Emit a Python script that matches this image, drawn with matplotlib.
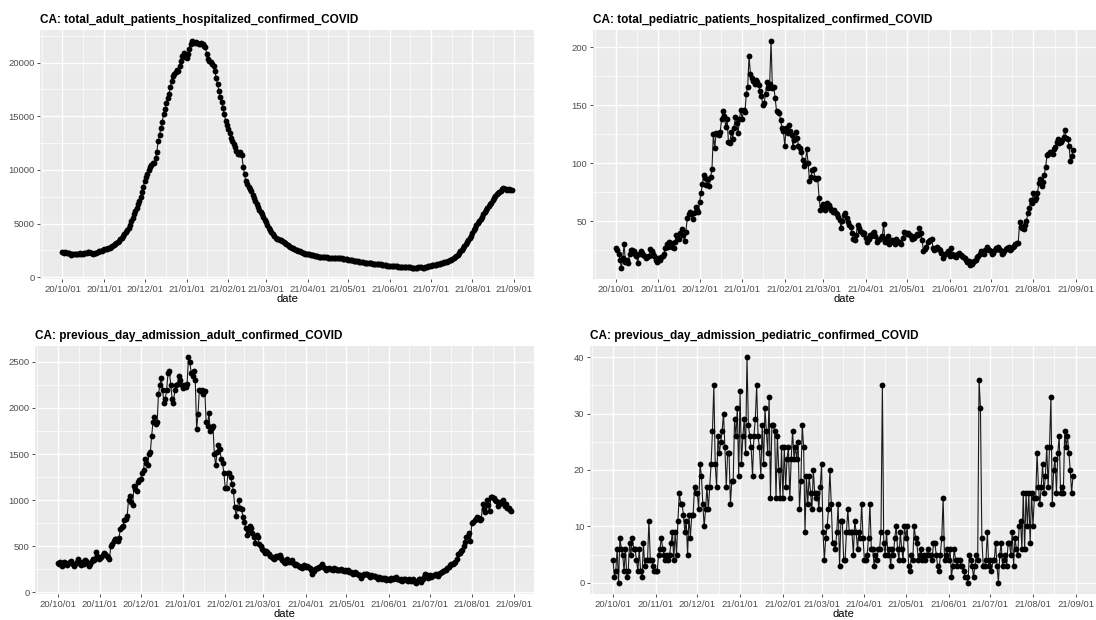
import numpy as np
import pandas as pd
import matplotlib
matplotlib.use('Agg')
import matplotlib.pyplot as plt
import matplotlib.dates as mdates
from matplotlib.ticker import MultipleLocator, FixedLocator

plt.rcParams['font.family'] = ['Liberation Sans', 'DejaVu Sans']

start_date = '2020-10-01'

# Daily values, one list per month (Oct 2020 .. Aug 2021).
adult_hosp = (
    [2310, 2290, 2330, 2280, 2250, 2230, 2020, 2150, 2180, 2200, 2170, 2160, 2200, 2220, 2190, 2180,
     2210, 2230, 2250, 2300, 2330, 2290, 2240, 2200, 2230, 2280, 2330, 2390, 2420, 2460, 2500]
    + [2590, 2620, 2660, 2700, 2750, 2820, 2880, 2950, 3050, 3150, 3280, 3400, 3540, 3680, 3850,
       4020, 4200, 4400, 4610, 4900, 5200, 5520, 5860, 6150, 6450, 6780, 7100, 7500, 7950, 8450]
    + [8970, 9300, 9650, 9950, 10250, 10500, 10600, 10650, 11100, 11700, 12700, 13300, 13900, 14500,
       15200, 15700, 16200, 16700, 17100, 17700, 18300, 18800, 18900, 19100, 19300, 19200, 19700,
       20200, 20650, 20900, 20500]
    + [20400, 20800, 21280, 21700, 21990, 21950, 21850, 21900, 21800, 21750, 21700, 21800, 21750,
       21600, 21430, 20800, 20340, 20200, 20050, 19900, 19720, 19200, 18600, 18000, 17400, 16760,
       16300, 15800, 15200, 14580, 14200]
    + [13800, 13400, 13020, 12700, 12400, 12100, 11780, 11500, 11460, 11700, 11400, 10300, 9600,
       8970, 8700, 8450, 8200, 8040, 7700, 7400, 7100, 6790, 6550, 6300, 6050, 5860, 5600, 5350]
    + [5100, 4850, 4610, 4400, 4200, 4000, 3850, 3680, 3600, 3550, 3480, 3420, 3360, 3280, 3200,
       3100, 3000, 2900, 2820, 2740, 2680, 2620, 2560, 2500, 2450, 2400, 2340, 2270, 2240, 2200, 2170]
    + [2140, 2120, 2090, 2060, 2030, 2000, 1960, 1930, 1900, 1870, 1880, 1860, 1840, 1850, 1830,
       1820, 1810, 1800, 1810, 1790, 1780, 1770, 1780, 1760, 1750, 1740, 1720, 1700, 1680, 1650]
    + [1620, 1600, 1580, 1560, 1530, 1500, 1480, 1460, 1440, 1420, 1400, 1380, 1360, 1340, 1320,
       1310, 1300, 1280, 1260, 1250, 1240, 1220, 1210, 1200, 1180, 1160, 1140, 1120, 1100, 1080, 1060]
    + [1050, 1040, 1030, 1020, 1010, 1000, 990, 980, 970, 960, 950, 940, 930, 920, 910, 900, 890,
       890, 880, 880, 890, 900, 910, 900, 890, 880, 900, 950, 1000, 1050]
    + [1080, 1090, 1100, 1110, 1140, 1180, 1210, 1250, 1290, 1330, 1370, 1410, 1450, 1500, 1560,
       1630, 1710, 1790, 1870, 1960, 2100, 2250, 2400, 2550, 2720, 2880, 3050, 3250, 3450, 3650, 3850]
    + [4080, 4350, 4610, 4850, 5050, 5250, 5450, 5650, 5860, 6050, 6250, 6450, 6620, 6790, 6950,
       7150, 7350, 7550, 7730, 7850, 7950, 8050, 8200, 8290, 8250, 8200, 8150, 8200, 8150, 8100]
)

pediatric_hosp = (
    [27, 25, 22, 17, 10, 18, 30, 15, 17, 14, 22, 25, 25, 24, 22, 20, 14, 22, 24, 23, 21, 20, 18,
     19, 20, 26, 24, 22, 20, 17, 15]
    + [18, 17, 19, 20, 22, 27, 30, 28, 32, 31, 28, 27, 32, 38, 36, 35, 40, 43, 38, 33, 41, 53, 56,
       58, 56, 52, 57, 62, 60, 58]
    + [67, 74, 82, 90, 87, 81, 86, 80, 88, 95, 125, 113, 126, 125, 124, 127, 138, 145, 141, 131,
       138, 118, 117, 127, 121, 130, 140, 135, 126, 138, 146]
    + [138, 146, 144, 160, 166, 192, 177, 173, 171, 168, 172, 170, 167, 162, 158, 150, 152, 160,
       170, 165, 168, 205, 165, 166, 156, 145, 144, 143, 137, 130, 128]
    + [115, 130, 126, 133, 128, 124, 114, 120, 127, 122, 115, 113, 110, 103, 98, 100, 112, 100, 85,
       88, 94, 95, 87, 86, 87, 70, 60, 63]
    + [65, 60, 63, 66, 64, 61, 60, 58, 60, 57, 56, 54, 51, 44, 50, 55, 57, 53, 49, 47, 45, 40, 35,
       34, 38, 47, 44, 42, 41, 39, 40]
    + [36, 32, 35, 38, 37, 40, 41, 37, 32, 34, 35, 36, 37, 48, 32, 35, 37, 30, 33, 34, 32, 30, 35,
       33, 32, 31, 30, 36, 41, 40]
    + [39, 40, 38, 37, 35, 36, 37, 39, 38, 44, 40, 34, 24, 26, 28, 32, 33, 34, 35, 27, 25, 26, 28,
       26, 25, 23, 18, 21, 22, 23, 24]
    + [20, 27, 22, 20, 21, 19, 22, 23, 21, 20, 19, 18, 17, 15, 16, 12, 13, 15, 16, 17, 19, 20, 22,
       24, 23, 22, 25, 28, 26, 25]
    + [24, 22, 23, 25, 27, 28, 26, 25, 22, 23, 24, 26, 27, 28, 25, 26, 28, 29, 30, 31, 31, 49, 45,
       44, 43, 47, 50, 57, 61, 68, 66]
    + [74, 68, 70, 74, 83, 86, 80, 84, 90, 97, 107, 108, 110, 109, 108, 112, 114, 118, 121, 117,
       118, 120, 123, 129, 122, 121, 115, 102, 106, 111]
)

adult_adm = (
    [320, 305, 330, 285, 310, 335, 320, 300, 315, 330, 345, 310, 290, 305, 330, 360, 320, 300, 335,
     310, 350, 345, 320, 290, 310, 340, 365, 350, 440, 390, 360]
    + [370, 385, 410, 430, 420, 395, 380, 365, 500, 530, 560, 580, 575, 560, 590, 690, 710, 720,
       790, 800, 830, 1000, 1050, 980, 950, 1150, 1120, 1100, 1200, 1220]
    + [1230, 1300, 1330, 1450, 1400, 1380, 1500, 1520, 1700, 1850, 1900, 1830, 1850, 2150, 2250,
       2330, 2200, 2050, 2100, 2200, 2380, 2400, 2250, 2100, 2050, 2200, 2250, 2260, 2350, 2300, 2250]
    + [2220, 2250, 2230, 2260, 2550, 2500, 2380, 2350, 2400, 2300, 1770, 1930, 2200, 2180, 2200,
       2150, 2180, 1850, 1800, 1950, 1750, 1780, 1800, 1500, 1380, 1520, 1600, 1550, 1450, 1400, 1300]
    + [1130, 1130, 1300, 1290, 1250, 1180, 1100, 930, 830, 920, 1000, 920, 900, 820, 760, 700, 620,
       680, 720, 700, 640, 600, 540, 620, 600, 520, 500, 470]
    + [460, 430, 450, 440, 420, 400, 380, 370, 360, 390, 380, 400, 410, 370, 350, 330, 320, 360,
       340, 330, 340, 350, 320, 300, 310, 300, 290, 280, 270, 290, 300]
    + [280, 290, 280, 260, 240, 200, 230, 250, 270, 260, 280, 290, 310, 280, 260, 240, 250, 260,
       255, 250, 240, 260, 250, 240, 245, 240, 250, 245, 235, 240]
    + [230, 240, 225, 220, 210, 200, 220, 215, 200, 190, 185, 160, 190, 200, 195, 200, 190, 170,
       185, 180, 175, 180, 170, 140, 165, 155, 140, 160, 155, 130, 150]
    + [150, 135, 160, 140, 160, 165, 145, 150, 130, 140, 120, 145, 150, 130, 125, 140, 120, 130,
       140, 115, 105, 120, 140, 150, 110, 150, 170, 200, 190, 160]
    + [185, 170, 175, 190, 185, 200, 180, 200, 210, 220, 230, 240, 245, 260, 280, 300, 305, 310,
       320, 330, 360, 420, 430, 450, 460, 500, 550, 600, 610, 640, 560]
    + [750, 760, 790, 800, 820, 810, 790, 800, 960, 900, 870, 1000, 950, 880, 1030, 1040, 1020,
       1000, 990, 940, 960, 980, 970, 1000, 940, 960, 920, 910, 890, 880]
)

pediatric_adm = (
    [4, 1, 2, 6, 0, 8, 6, 5, 2, 6, 1, 2, 7, 5, 8, 6, 6, 4, 2, 6, 2, 1, 7, 3, 4, 4, 11, 4, 4, 3, 2]
    + [2, 2, 5, 6, 8, 6, 5, 4, 5, 4, 5, 7, 9, 4, 9, 5, 11, 16, 14, 14, 12, 9, 11, 5, 12, 8, 12, 12,
       17, 16]
    + [16, 13, 21, 19, 14, 10, 13, 17, 13, 17, 21, 27, 35, 21, 17, 26, 23, 25, 27, 30, 24, 17, 23,
       23, 14, 18, 18, 29, 26, 31, 19]
    + [34, 21, 26, 29, 23, 40, 28, 26, 24, 19, 26, 29, 35, 26, 24, 19, 28, 21, 31, 27, 23, 33, 15,
       28, 28, 27, 15, 26, 20, 15, 24]
    + [15, 24, 17, 22, 24, 15, 22, 27, 22, 24, 22, 25, 13, 18, 28, 24, 9, 19, 14, 19, 16, 13, 20,
       16, 15, 16, 13, 17]
    + [21, 9, 4, 8, 10, 13, 20, 14, 7, 7, 6, 9, 14, 3, 11, 11, 4, 4, 9, 13, 9, 9, 9, 5, 11, 9, 6, 9,
       8, 14, 8]
    + [4, 4, 5, 8, 14, 6, 6, 3, 5, 4, 6, 6, 9, 35, 7, 5, 9, 5, 6, 3, 6, 5, 8, 10, 6, 4, 9, 6, 4, 10]
    + [8, 10, 3, 2, 5, 4, 10, 8, 7, 4, 5, 6, 4, 5, 4, 5, 6, 5, 5, 4, 7, 7, 5, 3, 2, 5, 8, 15, 4, 5, 6]
    + [4, 6, 1, 3, 6, 4, 3, 4, 4, 3, 3, 2, 1, 1, 0, 5, 4, 3, 1, 3, 5, 4, 36, 31, 8, 3, 3, 4, 9, 3]
    + [4, 2, 4, 4, 7, 3, 0, 5, 7, 3, 4, 5, 3, 7, 7, 5, 9, 3, 8, 6, 5, 10, 11, 6, 16, 6, 16, 10, 16,
       7, 16]
    + [10, 15, 15, 23, 17, 14, 17, 21, 16, 19, 24, 17, 24, 33, 14, 20, 22, 16, 23, 26, 16, 17, 16,
       27, 24, 26, 23, 20, 16, 19]
)

titles = ['CA: total_adult_patients_hospitalized_confirmed_COVID',
          'CA: total_pediatric_patients_hospitalized_confirmed_COVID',
          'CA: previous_day_admission_adult_confirmed_COVID',
          'CA: previous_day_admission_pediatric_confirmed_COVID']
series = [adult_hosp, pediatric_hosp, adult_adm, pediatric_adm]
y_steps = [5000, 50, 500, 10]

W, H = 1096, 620
# panel boxes in pixels: left, top, right, bottom
boxes = [(40, 30, 534, 279), (593, 30, 1096, 279),
         (35, 346, 534, 594), (590, 346, 1096, 594)]

fig = plt.figure(figsize=(W / 100, H / 100), dpi=100)

month_starts = pd.date_range('2020-09-01', '2021-10-01', freq='MS')
month_nums = mdates.date2num(month_starts)
mid_months = (month_nums[:-1] + month_nums[1:]) / 2


def style_axes(ax, title, step):
    ax.set_facecolor('#EBEBEB')
    for sp in ax.spines.values():
        sp.set_visible(False)
    ax.set_axisbelow(True)
    ax.grid(which='major', color='white', lw=1.0)
    ax.grid(which='minor', color='white', lw=0.5)
    ax.xaxis.set_major_locator(mdates.MonthLocator())
    ax.xaxis.set_minor_locator(FixedLocator(mid_months))
    ax.xaxis.set_major_formatter(mdates.DateFormatter('%y/%m/%d'))
    ax.yaxis.set_major_locator(MultipleLocator(step))
    ax.yaxis.set_minor_locator(MultipleLocator(step / 2))
    ax.tick_params(which='major', length=2.5, width=0.6, color='#333333',
                   labelsize=6.8, labelcolor='#4D4D4D', pad=1.5)
    ax.tick_params(which='minor', length=0)
    ax.set_title(title, loc='left', fontsize=8.5, fontweight='bold', pad=5)
    ax.set_xlabel('date', fontsize=8, labelpad=0)


for vals, title, step, (l, t, r, b) in zip(series, titles, y_steps, boxes):
    ax = fig.add_axes([l / W, 1 - b / H, (r - l) / W, (b - t) / H])
    dates = pd.date_range(start_date, periods=len(vals), freq='D')
    ax.plot(dates, vals, color='#1a1a1a', lw=0.8, marker='o', ms=4.2,
            mfc='black', mec='black', mew=0)
    ax.margins(x=0.05, y=0.05)
    style_axes(ax, title, step)

fig.savefig('out.png', dpi=100)
